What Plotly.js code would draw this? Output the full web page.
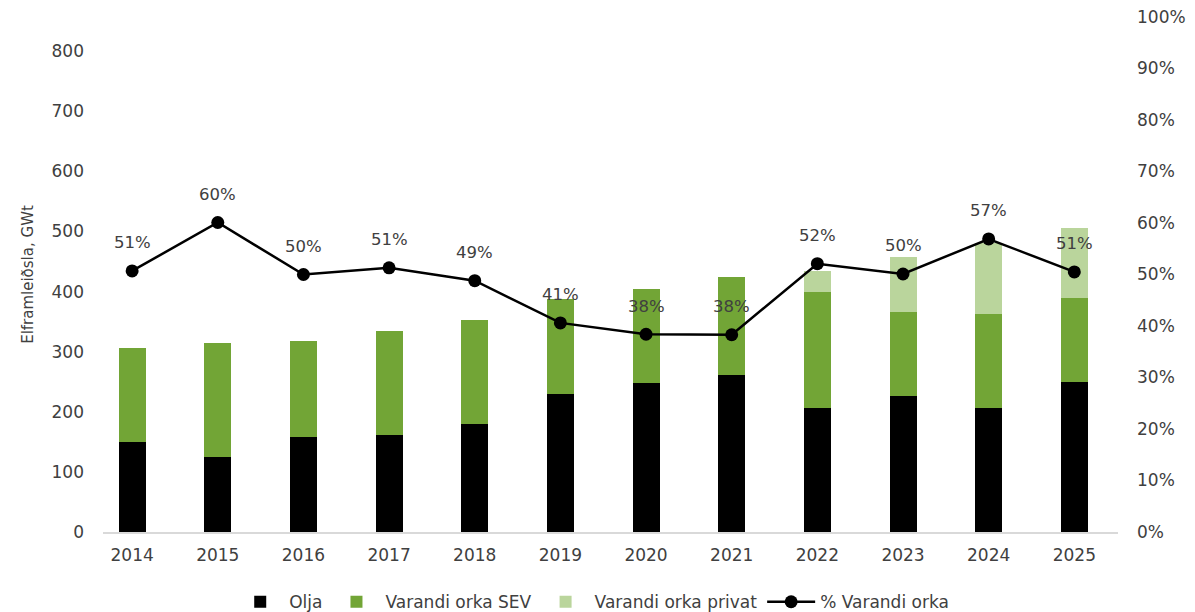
<!DOCTYPE html>
<html>
<head>
<meta charset="utf-8">
<script src="https://cdn.plot.ly/plotly-3.0.1.min.js"></script>
<style>html,body{margin:0;padding:0;background:#fff;}#chart{width:1195px;height:612px;}</style>
</head>
<body>
<div id="chart"></div>
<script>
const years = ["2014","2015","2016","2017","2018","2019","2020","2021","2022","2023","2024","2025"];
const olja = [150,125,158,161,180,230,248,261,206,226,206,250];
const varandiSEV = [156,189,160,173,173,158,156,163,193,140,157,139];
const varandiPrivat = [0,0,0,0,0,0,0,0,35,92,118,117];
const pctVarandi = [0.507,0.601,0.500,0.513,0.488,0.406,0.384,0.383,0.521,0.501,0.569,0.505];

const font = "DejaVu Sans, sans-serif";
const txtColor = "#404040";

const traces = [
  {type:"bar", name:"Olja", x:years, y:olja, marker:{color:"#000000"}, width:0.315},
  {type:"bar", name:"Varandi orka SEV", x:years, y:varandiSEV, marker:{color:"#72a536"}, width:0.315},
  {type:"bar", name:"Varandi orka privat", x:years, y:varandiPrivat, marker:{color:"#bad59c"}, width:0.315},
  {type:"scatter", mode:"lines+markers", name:"% Varandi orka", x:years, y:pctVarandi, yaxis:"y2",
   line:{color:"#000000", width:2.5}, marker:{color:"#000000", size:13}}
];

// category axis: annotation x is the category's index
const annotations = years.map((yr,i)=>({
  x:i, y:pctVarandi[i], xref:"x", yref:"y2", yshift:28, showarrow:false,
  text:Math.round(pctVarandi[i]*100)+"%", font:{family:font, size:16.5, color:txtColor}
}));

const layout = {
  width:1195, height:612,
  margin:{l:103, r:77, t:17, b:80, autoexpand:false},
  paper_bgcolor:"#fff", plot_bgcolor:"#fff",
  barmode:"stack",
  font:{family:font, size:17, color:txtColor},
  showlegend:true,
  legend:{orientation:"h", x:0.496, xanchor:"center", xref:"container", y:0.016, yanchor:"middle", yref:"container",
          font:{family:font, size:17, color:txtColor}, traceorder:"normal", itemwidth:48},
  annotations:annotations,
  xaxis:{type:"category", range:[-0.34,11.51], showline:true, linecolor:"#d9d9d9", linewidth:1.5,
         ticks:"", showgrid:false, tickfont:{size:17, color:txtColor}, ticklabelstandoff:7},
  yaxis:{range:[0,857], tickvals:[0,100,200,300,400,500,600,700,800], showgrid:false, zeroline:false,
         showline:false, ticks:"", tickfont:{size:17, color:txtColor}, ticklabelstandoff:18,
         title:{text:"Elframleiðsla, GWt", font:{size:15, color:txtColor}, standoff:14}},
  yaxis2:{overlaying:"y", side:"right", range:[0,1], dtick:0.1, tickformat:".0%", showgrid:false,
          zeroline:false, showline:false, ticks:"", tickfont:{size:17, color:txtColor}, ticklabelstandoff:18}
};

Plotly.newPlot("chart", traces, layout, {displayModeBar:false, staticPlot:true});
</script>
</body>
</html>
